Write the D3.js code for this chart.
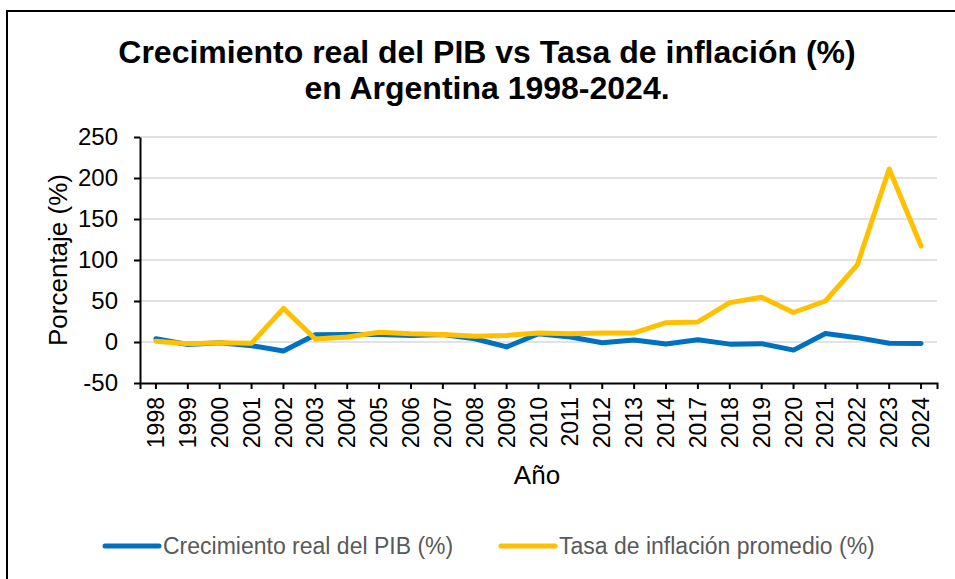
<!DOCTYPE html>
<html>
<head>
<meta charset="utf-8">
<style type="text/css">
html, body{
	padding: 0;
	margin: 0;
	background: white;
}
text{
	font-family: "Liberation Sans", Arial, sans-serif;
}
</style>
</head>
<body>
<svg width=955 height=579></svg>
<script src="https://cdn.jsdelivr.net/npm/d3@7"></script>
<script type="text/javascript">
	// data
	var years = ['1998','1999','2000','2001','2002','2003','2004','2005','2006','2007','2008','2009','2010',
		'2011','2012','2013','2014','2017','2018','2019','2020','2021','2022','2023','2024'];
	var pib = [4,-3,-0.8,-4.5,-10.9,8.8,9,9,8,9,4,-6,10,6,-1,2.4,-2.5,2.8,-2.6,-2,-9.9,10.4,5.3,-1.6,-1.7];
	var inflacion = [1,-2,-1,-1.5,41,3.7,6,12,10,9,7,8,11,10,11,11,23.5,24.5,48,54.5,36,50,94,211,117];
	var yTicks = [-50,0,50,100,150,200,250];

	var svg = d3.select('svg');

	// outer frame
	svg.append('rect')
		.attr('x',7).attr('y',11)
		.attr('width',960).attr('height',580)
		.style('fill','none').style('stroke','black').style('stroke-width',2);

	var x = d3.scaleBand().domain(years).range([140,937]);
	var y = d3.scaleLinear().domain([-50,250]).range([383,137]);

	// title
	var title = svg.append('text')
		.attr('text-anchor','middle')
		.style('font-size','32px').style('font-weight','bold');
	title.append('tspan').attr('x',487).attr('y',63).text('Crecimiento real del PIB vs Tasa de inflación (%)');
	title.append('tspan').attr('x',487).attr('y',99).text('en Argentina 1998-2024.');

	// grid
	svg.append('g').selectAll('line')
		.data(yTicks.filter(d=>d>-50))
		.enter().append('line')
		.attr('x1',140).attr('x2',937)
		.attr('y1',d=>y(d)).attr('y2',d=>y(d))
		.style('stroke','#d9d9d9').style('stroke-width',1.5);

	// axes
	var yAxis = svg.append('g')
		.attr('transform','translate(140,0)')
		.call(d3.axisLeft(y).tickValues(yTicks).tickFormat(d=>String(d))
			.tickSize(6).tickSizeOuter(0).tickPadding(16));
	yAxis.selectAll('text').style('font-size','24px').style('fill','black');

	var xAxis = svg.append('g')
		.attr('transform','translate(0,383)')
		.call(d3.axisBottom(x).tickSize(6).tickSizeOuter(6));
	xAxis.selectAll('text')
		.style('font-size','23px').style('fill','black')
		.attr('transform','rotate(-90)')
		.attr('text-anchor','end')
		.attr('x',-14).attr('y',0).attr('dy','0.35em');

	svg.selectAll('.domain').style('stroke','black').style('stroke-width',2);
	svg.selectAll('.tick line').style('stroke','black').style('stroke-width',2);

	// axis titles
	svg.append('text')
		.attr('x',537).attr('y',484)
		.attr('text-anchor','middle')
		.style('font-size','26px')
		.text('Año');
	svg.append('text')
		.attr('transform','translate(67,260) rotate(-90)')
		.attr('text-anchor','middle')
		.style('font-size','26px')
		.text('Porcentaje (%)');

	// series
	var line = d3.line()
		.x((d,p)=>x(years[p])+x.bandwidth()/2)
		.y(d=>y(d));

	var series = [
		{name:'Crecimiento real del PIB (%)', values:pib, color:'#0070C0'},
		{name:'Tasa de inflación promedio (%)', values:inflacion, color:'#FFC000'}
	];

	svg.selectAll('path.serie')
		.data(series)
		.enter().append('path')
		.attr('class','serie')
		.attr('d',d=>line(d.values))
		.style('fill','none')
		.style('stroke',d=>d.color)
		.style('stroke-width',5)
		.style('stroke-linejoin','round')
		.style('stroke-linecap','round');

	// legend
	var legendX = [105,501];
	var legend = svg.selectAll('g.legend')
		.data(series)
		.enter().append('g')
		.attr('class','legend')
		.attr('transform',(d,p)=>'translate('+legendX[p]+',546)');
	legend.append('line')
		.attr('x1',0).attr('x2',54)
		.style('stroke',d=>d.color)
		.style('stroke-width',5)
		.style('stroke-linecap','round');
	legend.append('text')
		.attr('x',58).attr('dy','0.35em')
		.style('font-size','23px')
		.style('fill','#595959')
		.text(d=>d.name);
</script>
</body>
</html>
